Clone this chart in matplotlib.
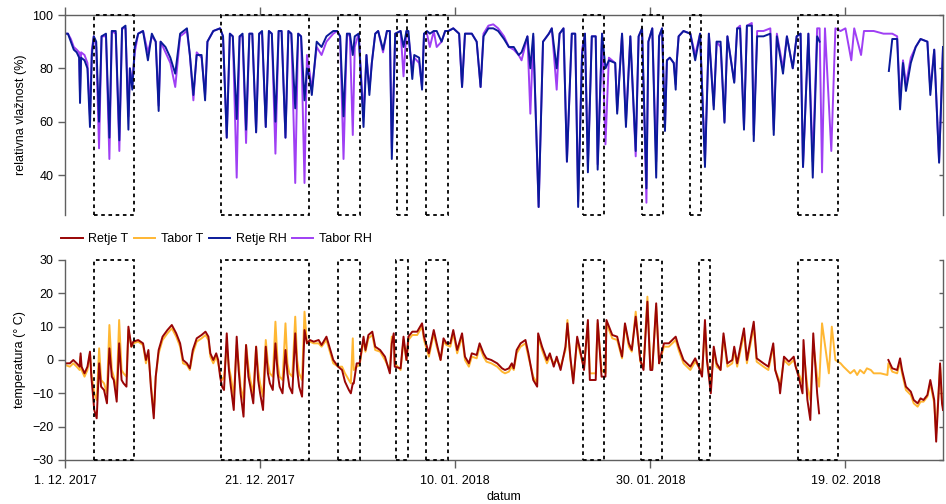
import numpy as np
import pandas as pd
import matplotlib
matplotlib.use('Agg')
import matplotlib.pyplot as plt
import matplotlib.dates as mdates
from matplotlib.patches import Rectangle
from matplotlib.transforms import blended_transform_factory

# time axis: days after 1. 12. 2017
START = pd.Timestamp('2017-12-01')

# relative humidity (Retje / Tabor)
RH_DAYS = [0.05, 0.3, 0.6, 0.9, 1.2, 1.45, 1.54, 1.65, 2.0, 2.3, 2.56, 2.75, 2.95, 3.2, 3.49,
           3.75, 4.2, 4.55, 4.8, 5.2, 5.57, 5.85, 6.2, 6.5, 6.65, 6.9, 7.15, 7.5, 8.0, 8.5,
           8.9, 9.3, 9.6, 9.8, 10.3, 10.8, 11.3, 11.8, 12.5, 12.8, 13.16, 13.5, 14.0, 14.36,
           14.6, 15.2, 15.9, 16.2, 16.58, 16.9, 17.2, 17.6, 17.9, 18.2, 18.56, 18.9, 19.2,
           19.59, 19.9, 20.2, 20.58, 20.9, 21.2, 21.57, 21.9, 22.2, 22.6, 22.9, 23.2, 23.6,
           23.9, 24.2, 24.55, 24.8, 25.1, 25.3, 25.8, 26.3, 26.8, 27.5, 27.9, 28.2, 28.55,
           28.9, 29.2, 29.5, 29.7, 30.1, 30.6, 30.9, 31.2, 31.45, 31.8, 32.1, 32.6, 33.0,
           33.3, 33.5, 33.85, 34.4, 34.7, 35.0, 35.2, 35.6, 35.8, 36.3, 36.6, 36.8, 37.1,
           37.4, 37.8, 38.1, 38.6, 38.97, 39.3, 39.8, 40.4, 40.7, 41.0, 41.7, 42.2, 42.6,
           42.9, 43.4, 43.9, 44.4, 45.0, 45.5, 46.0, 46.5, 46.8, 47.4, 47.7, 48.0, 48.55,
           49.0, 49.6, 49.9, 50.4, 50.7, 51.1, 51.45, 51.95, 52.3, 52.6, 53.0, 53.3, 53.6,
           54.0, 54.4, 54.6, 55.05, 55.4, 55.75, 56.4, 56.6, 57.1, 57.5, 57.95, 58.5, 58.8,
           59.15, 59.6, 59.8, 60.2, 60.6, 60.9, 61.2, 61.5, 61.7, 62.0, 62.4, 62.6, 62.7,
           62.9, 63.4, 64.1, 64.6, 65.1, 65.6, 66.0, 66.5, 66.8, 67.2, 67.6, 67.9, 68.6,
           68.9, 69.2, 69.6, 69.9, 70.4, 70.6, 70.95, 71.6, 72.3, 72.65, 72.97, 73.6, 74.0,
           74.6, 75.0, 75.4, 75.65, 76.2, 76.65, 77.1, 77.35, 77.6, 77.9, 78.55, 78.97,
           79.5, 80.0, 80.6, 80.9, 81.6, 81.9, 82.9, 83.9, 84.45, 84.8, 85.3, 85.6, 85.9,
           86.2, 86.7, 87.2, 87.7, 88.4, 88.7, 89.1, 89.6, 90.0]
RETJE_RH = [93, 93, 90, 87, 86, 84, 67, 84, 83, 80, 58, 85, 92, 90, 60,
            92, 93, 54, 94, 94, 53, 95, 96, 57, 80, 72, 88, 93, 94, 83,
            93, 90, 64, 90, 88, 84, 78, 93, 95, 85, 70, 85, 85, 68,
            90, 94, 95, 92, 54, 93, 92, 61, 92, 93, 57, 93, 93,
            56, 93, 94, 58, 94, 93, 60, 94, 94, 54, 94, 93, 65,
            93, 92, 68, 80, 76, 70, 90, 88, 92, 94, 94, 92, 62,
            93, 93, 85, 92, 93, 58, 85, 70, 82, 93, 94, 87, 94,
            94, 46, 93, 94, 88, 94, 94, 76, 85, 84, 72, 93, 94,
            93, 94, 94, 90, 94, 94, 95, 93, 73, 93, 93, 90, 73,
            92, 95, 95, 94, 91, 88, 88, 85, 86, 92, 80, 93, 28,
            90, 93, 95, 80, 93, 95, 45, 93, 93, 28, 85, 93, 41,
            92, 92, 42, 93, 80, 83, 82, 63, 93, 58, 92, 49, 92,
            95, 35, 90, 95, 39, 92, 95, 56.5, 83, 84, 82, 72, 82,
            92, 94, 93, 83, 93, 43, 93, 64.6, 90, 90, 59.6, 92, 74.6,
            95, 95, 57, 96, 96, 52.7, 92, 92, 93, 55, 92, 78, 92,
            80, 92, 93, 43, 93, 39, 92, 90, np.nan, np.nan, np.nan, np.nan,
            np.nan, np.nan, np.nan, np.nan, np.nan, np.nan, np.nan, np.nan, 79, 91, 91, 64.6, 82,
            71.5, 82, 88, 91, 90, 70, 87, 44.6, 88]
TABOR_RH = [93, 93, 91, 88, 87, 86, 70, 86, 85, 82, 62, 87, 92, 88, 50,
            92, 92, 46, 94, 93, 49, 95, 95, 62, 80, 74, 86, 93, 94, 86,
            92, 90, 66, 90, 86, 82, 73, 92, 94, 85, 68, 86, 84, 70,
            90, 94, 95, 92, 54, 93, 92, 39, 92, 92, 52, 93, 93,
            56, 93, 93, 58, 94, 93, 48, 94, 94, 54, 94, 93, 37,
            93, 92, 37, 85, 78, 72, 88, 85, 90, 93, 94, 92, 46,
            93, 92, 55, 88, 93, 62, 85, 72, 82, 93, 94, 86, 94,
            94, 50, 93, 94, 77, 94, 92, 80, 84, 82, 73, 93, 93,
            88, 94, 88, 90, 94, 94, 95, 93, 73, 93, 93, 90, 73,
            93, 96, 96.5, 95, 92, 88, 87, 85, 83, 92, 63, 92, 28,
            90, 93, 95, 72, 93, 95, 45, 93, 93, 30, 87, 93, 43,
            92, 92, 44, 93, 51.5, 84, 82, 64, 93, 60, 92, 47, 92,
            95, 29.6, 90, 95, 45, 92, 95, 58, 83, 84, 82, 74, 82,
            92, 94, 93, 85, 93, 45, 93, 66, 90, 88, 60, 92, 75,
            95, 96, 58, 96, 97, 55, 94, 94, 95, 57, 93, 80, 92,
            80, 92, 93, 43, 93, 45, 95, 95, 41, 95, 49, 95,
            94, 95, 83, 95, 85, 94, 94, 93, 93, 93, 92, 68, 83,
            74, 84, 88, 91, 90, 72, 87, 45, 88]

# temperature (Retje / Tabor)
T_DAYS = [0.0, 0.5, 0.85, 1.2, 1.5, 1.6, 1.7, 2.0, 2.3, 2.56, 2.7, 3.0, 3.25, 3.5, 3.7,
          4.0, 4.3, 4.55, 4.8, 5.0, 5.3, 5.55, 5.8, 6.0, 6.3, 6.5, 6.8, 7.0, 7.5, 8.0,
          8.3, 8.55, 8.8, 9.1, 9.3, 9.6, 10.0, 10.5, 10.95, 11.4, 11.8, 12.1, 12.5, 12.8,
          13.1, 13.5, 14.0, 14.4, 14.7, 14.9, 15.2, 15.5, 15.7, 15.9, 16.1, 16.3, 16.58,
          16.8, 17.0, 17.3, 17.6, 17.8, 18.0, 18.3, 18.56, 18.8, 19.0, 19.3, 19.59, 19.8,
          20.0, 20.3, 20.58, 20.8, 21.0, 21.3, 21.57, 21.8, 22.0, 22.3, 22.6, 22.8, 23.0,
          23.3, 23.6, 23.8, 24.0, 24.3, 24.55, 24.8, 25.1, 25.5, 26.0, 26.3, 26.8, 27.2,
          27.5, 28.0, 28.4, 28.7, 29.1, 29.3, 29.5, 29.6, 29.9, 30.2, 30.6, 30.8, 31.1,
          31.5, 31.8, 32.3, 32.8, 33.3, 33.5, 33.7, 33.8, 34.4, 34.7, 35.0, 35.2, 35.6,
          36.1, 36.6, 36.8, 37.3, 37.8, 38.1, 38.5, 38.8, 39.1, 39.5, 39.8, 40.2, 40.7,
          41.0, 41.4, 41.7, 42.2, 42.5, 42.9, 43.2, 43.7, 44.3, 44.8, 45.1, 45.5, 45.8,
          46.0, 46.3, 46.7, 47.2, 47.5, 48.0, 48.4, 48.5, 48.9, 49.4, 49.7, 50.1, 50.4,
          50.8, 51.3, 51.5, 51.8, 52.1, 52.5, 52.8, 53.0, 53.2, 53.6, 53.8, 54.4, 54.6,
          55.0, 55.4, 55.5, 56.1, 56.6, 57.1, 57.4, 57.8, 58.1, 58.5, 58.97, 59.3, 59.7,
          60.0, 60.2, 60.6, 60.9, 61.0, 61.4, 61.9, 62.6, 62.9, 63.4, 64.1, 64.6, 64.96,
          65.3, 65.6, 65.8, 66.2, 66.5, 66.8, 67.2, 67.5, 67.9, 68.4, 68.6, 68.9, 69.6,
          69.9, 70.6, 70.9, 71.6, 72.1, 72.6, 72.8, 73.2, 73.3, 73.7, 74.2, 74.7, 74.9,
          75.2, 75.6, 75.7, 76.1, 76.4, 76.7, 77.1, 77.3, 77.6, 78.3, 78.6, 78.97, 79.5,
          79.8, 80.5, 80.9, 81.2, 81.5, 81.9, 82.2, 82.6, 82.9, 83.6, 84.3, 84.4, 84.8,
          85.3, 85.6, 85.8, 86.2, 86.7, 87.0, 87.4, 87.7, 88.0, 88.4, 88.7, 89.1, 89.3,
          89.7, 89.9, 90.0]
RETJE_T = [-1, -1, 0, -1, -2, 2, -2, -4, -2, 2.5, -5, -15, -17.5, -1, -8,
           -9, -13, 3.5, -5, -6, -12.5, 5, -6, -7, -8, 10, 4, 5.5, 6, 5,
           0, 3, -8, -17.5, -5, 3, 7, 9, 10.5, 8, 5, 0, -1, -2.5,
           3, 6.5, 7.5, 8.5, 7, 2, 0, 2, 0, -5, -8, -9, 8,
           -3, -8, -15, 7, -3, -10, -17, 4.5, -5, -8, -13, 4, -6,
           -10, -15, 4, -4, -7, -9, 5, -4, -8, -10, 3, -4, -8,
           -10, 8, -3, -8, -11, 9, 5, 6, 5.5, 6, 4.5, 7, 3,
           0, -2, -3, -6.5, -9, -10, -7, -7, -1, -1, 7, 3, 7.5,
           8.5, 4, 3, 1, -4, 5, 8, -2, -2.5, 7, 0, 7, 8.5,
           8.5, 11, 7, 2, 9, 5, 0, 6.5, 5, 5, 9, 3, 8,
           1, -1, 2, 1.5, 5, 2, 0.5, 0, -1, -2.5, -3, -2.5, -1,
           -2.5, 3, 5, 6, 2, -6, -8, 8, 4, 0, 2, -2, 1,
           -3, 4, 11, 1, -7, 7, 3, 0, -3, 12, -6, -6, 12,
           -5, -5, 12, 7.5, 7, 1, 11, 5, 3, 13, 0, -3, 17.5,
           -3, -3, 17, -1, 0.5, 5, 5, 7, 4, 0, -2, 0.5, -2,
           -5, 12, 0, -10, 4, -1, -3, 8, -1, 0, 4, -1, 9.5,
           0, 11.5, 0.5, -1, -2, 5, -3, -7, -10, 1, -0.5, 1, -2,
           -5, -10, 6, -12, -18, 8, -10, -16, np.nan, np.nan, np.nan, np.nan, np.nan,
           np.nan, np.nan, np.nan, np.nan, np.nan, np.nan, np.nan, np.nan, np.nan, np.nan, np.nan, 0, -2.5,
           -3, 0.5, -3, -8, -9.5, -12, -13, -11.5, -12, -10.5, -6, -12, -24.5,
           -1, -13, -15]
TABOR_T = [-1.5, -2, -1, -2, -3, 1, -3, -5, -3, 2, -4, -10, -12, 3.5, -6,
           -7, -10, 10.5, -3, -5, -9, 12, -3, -4, -5, 9, 4, 5, 5.5, 4.5,
           -1, 2, -7, -16, -5, 2, 6, 8, 9.5, 7, 4, -1, -1.5, -3,
           2, 5.5, 6.5, 7.5, 6, 1, -1, 1, -1, -4, -6, -5, 4,
           -2, -5, -11, 4.5, -1, -8, -12, 4.5, -2, -6, -10, 4, -3,
           -7, -11, 6, -1, -4, -5, 11.5, -1, -5, -6, 11, -1, -4,
           -5, 13, 0, -4, -6, 14.5, 5, 5.5, 5, 5, 4, 6, 2,
           -1, -2, -2, -4, -6, -7, 6.5, -3, -2, -1.5, 6, 2.5, 6.5,
           7.5, 3, 2.5, 0, -3, 7, 7, -1, -3, 6, 0, 6, 7.5,
           7.5, 10, 6, 1, 8, 4, 0, 5.5, 4.5, 4, 8, 2, 7,
           0, -2, 1, 0.5, 4, 1, -0.5, -1, -2, -3.5, -4, -3.5, -2,
           -3, 2, 4, 5, 1, -5, -7, 7, 3, -1, 1, -1, 0,
           -2, 3, 12, 0, -6, 6, 2, 0, -2, 11, -4, -4, 11,
           -3, -4, 11, 6.5, 6, 0.5, 10.5, 4, 2.5, 14.5, -0.5, -2, 19,
           -2, -2.5, 16, -1, 0, 4, 4, 6, 3, -1, -3, -0.5, -2,
           -4, 10, 0, -8, 3, -2, -3, 7, -2, -1, 3, -2, 8,
           -1, 10, -0.5, -2, -3, 4, -3, -6, -8, 0, -1.5, 0, -2,
           -4, -7, 3, -8, -12, 5, -5, -8, 11, -4, 10, 0, -1,
           -2, -4, -3, -4.5, -3, -4, -2.5, -3, -4, -4, -4.5, -1, -3.5,
           -4, -0.5, -4, -9, -10.5, -13, -14, -12.5, -12.5, -11, -7, -13, -22,
           -2, -13, -14]

# highlighted periods (start day, end day)
RH_BOXES = [(3.0, 7.1), (16.0, 25.0), (27.95, 30.2), (34.05, 35.1), (37.0, 39.3),
            (53.05, 55.2), (59.1, 61.25), (64.1, 65.2), (75.1, 79.2)]
T_BOXES = [(3.0, 7.1), (16.0, 25.05), (27.95, 30.2), (33.95, 35.2), (37.0, 39.3),
           (53.05, 55.2), (59.0, 61.15), (65.0, 66.15), (75.1, 79.2)]

TICK_DAYS = [0, 20, 40, 60, 80]
TICK_LABELS = ['1. 12. 2017', '21. 12. 2017', '10. 01. 2018', '30. 01. 2018', '19. 02. 2018']

RETJE_T_COLOR = '#990505'
TABOR_T_COLOR = '#ffb733'
RETJE_RH_COLOR = '#0a1a9a'
TABOR_RH_COLOR = '#9f3ff4'
SPINE_COLOR = '#606060'
LINE_W = 1.4

plt.rcParams['font.family'] = ['Liberation Sans', 'DejaVu Sans']
plt.rcParams['font.size'] = 9


def to_dates(days):
    return START + pd.to_timedelta(np.asarray(days, dtype=float), unit='D')


def draw_boxes(ax, boxes):
    trans = blended_transform_factory(ax.transData, ax.transAxes)
    for d0, d1 in boxes:
        x0 = mdates.date2num(to_dates([d0])[0])
        x1 = mdates.date2num(to_dates([d1])[0])
        ax.add_patch(Rectangle((x0, 0), x1 - x0, 1, transform=trans, fill=False,
                               edgecolor='black', linewidth=1.3, linestyle=(0, (2, 2)),
                               clip_on=False, zorder=5))


def style_axes(ax, yticks, xside):
    for s in ['left', 'right', 'top', 'bottom']:
        ax.spines[s].set_color(SPINE_COLOR)
        ax.spines[s].set_linewidth(1.0)
    ax.spines['right'].set_visible(False)
    ax.spines['bottom' if xside == 'top' else 'top'].set_visible(False)
    ax.set_yticks(yticks)
    ax.tick_params(axis='y', direction='out', length=5, color=SPINE_COLOR, width=1.0)
    ax.set_xticks(to_dates(TICK_DAYS))
    if xside == 'top':
        ax.tick_params(axis='x', top=True, bottom=False, labeltop=False, labelbottom=False,
                       direction='out', length=6, color=SPINE_COLOR, width=1.0)
    else:
        ax.set_xticklabels(TICK_LABELS)
        ax.tick_params(axis='x', direction='out', length=6, color=SPINE_COLOR, width=1.0, pad=5)
    # right axis: inward ticks, no labels
    sec = ax.secondary_yaxis('right')
    sec.set_yticks(yticks)
    sec.tick_params(direction='in', length=3, labelright=False, color=SPINE_COLOR, width=1.0)
    sec.spines['right'].set_color(SPINE_COLOR)
    sec.spines['right'].set_linewidth(1.0)


fig = plt.figure(figsize=(9.46, 5.04), dpi=100)
ax_rh = fig.add_axes([65 / 946, 1 - 215 / 504, 878 / 946, 200 / 504])
ax_t = fig.add_axes([65 / 946, 1 - 460 / 504, 878 / 946, 200 / 504])

xlim = (to_dates([0])[0], to_dates([90])[0])

# humidity panel
ax_rh.plot(to_dates(RH_DAYS), TABOR_RH, color=TABOR_RH_COLOR, lw=LINE_W, label='Tabor RH')
ax_rh.plot(to_dates(RH_DAYS), RETJE_RH, color=RETJE_RH_COLOR, lw=LINE_W, label='Retje RH')
ax_rh.set_xlim(xlim)
ax_rh.set_ylim(25, 100)
style_axes(ax_rh, [40, 60, 80, 100], 'top')
ax_rh.set_ylabel('relativna vlažnost (%)')
draw_boxes(ax_rh, RH_BOXES)

# temperature panel
ax_t.plot(to_dates(T_DAYS), TABOR_T, color=TABOR_T_COLOR, lw=LINE_W, label='Tabor T')
ax_t.plot(to_dates(T_DAYS), RETJE_T, color=RETJE_T_COLOR, lw=LINE_W, label='Retje T')
ax_t.set_xlim(xlim)
ax_t.set_ylim(-30, 30)
style_axes(ax_t, [-30, -20, -10, 0, 10, 20, 30], 'bottom')
ax_t.set_ylabel('temperatura (° C)')
ax_t.set_xlabel('datum', labelpad=3)
draw_boxes(ax_t, T_BOXES)

# legend between the panels
h_rt = ax_t.lines[1]
h_tt = ax_t.lines[0]
h_rr = ax_rh.lines[1]
h_tr = ax_rh.lines[0]
fig.legend([h_rt, h_tt, h_rr, h_tr], ['Retje T', 'Tabor T', 'Retje RH', 'Tabor RH'],
           loc='center left', bbox_to_anchor=(50 / 946, 1 - 239 / 504), ncol=4,
           frameon=False, handlelength=1.7, handletextpad=0.45, columnspacing=0.45,
           fontsize=9)

fig.savefig('out.png', dpi=100)
